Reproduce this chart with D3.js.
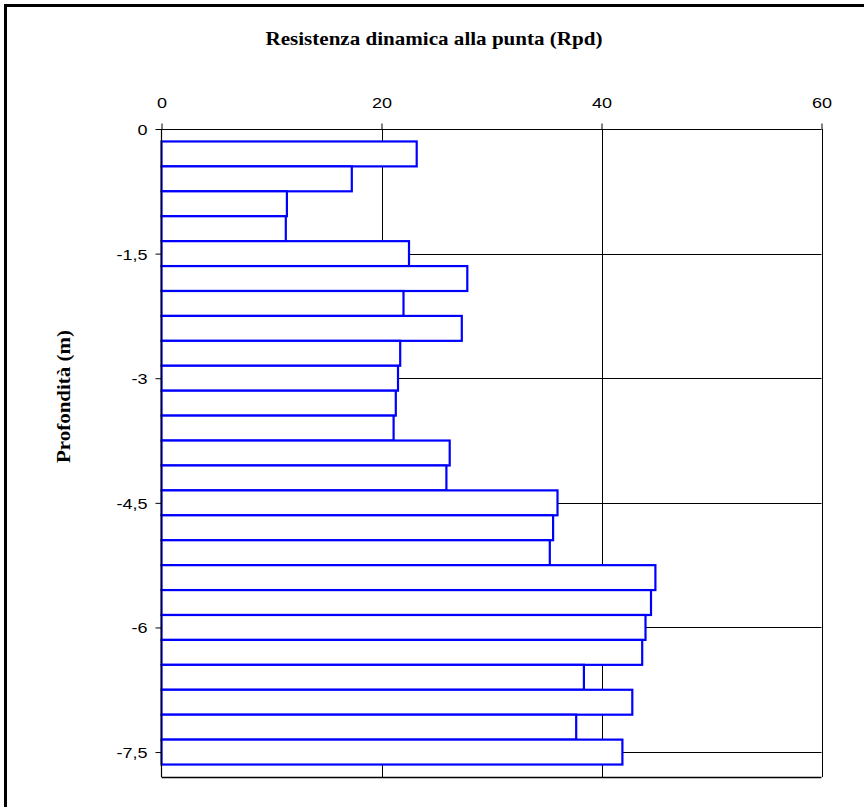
<!DOCTYPE html>
<html>
<head>
<meta charset="utf-8">
<script src="https://cdn.jsdelivr.net/npm/d3@7"></script>
<style>
  html, body { margin: 0; padding: 0; background: #fff; overflow: hidden; }
  svg { display: block; }
</style>
</head>
<body>
<svg id="chart" width="864" height="807"></svg>
<script>
// ---- data ----
const title = "Resistenza dinamica alla punta (Rpd)";
const yTitle = "Profondità (m)";
const depths = [0.3, 0.6, 0.9, 1.2, 1.5, 1.8, 2.1, 2.4, 2.7, 3.0, 3.3, 3.6, 3.9, 4.2, 4.5, 4.8, 5.1, 5.4, 5.7, 6.0, 6.3, 6.6, 6.9, 7.2, 7.5];
const rpd = [23.2, 17.3, 11.4, 11.3, 22.5, 27.8, 22.0, 27.3, 21.7, 21.5, 21.3, 21.1, 26.2, 25.9, 36.0, 35.6, 35.3, 44.9, 44.5, 44.0, 43.7, 38.4, 42.8, 37.7, 41.9];
const stepDepth = 0.3;
const xTicks = [0, 20, 40, 60];
const xTickLabels = ["0", "20", "40", "60"];
const yTicks = [0, -1.5, -3, -4.5, -6, -7.5];
const yTickLabels = ["0", "-1,5", "-3", "-4,5", "-6", "-7,5"];
const xDomain = [0, 60];
const yDomain = [0, -7.8];

// ---- layout ----
const svg = d3.select("#chart");
const pLeft = 161.5, pRight = 821.5, pTop = 129, pBottom = 777;

const x = d3.scaleLinear().domain(xDomain).range([pLeft, pRight]);
const y = d3.scaleLinear().domain(yDomain).range([pTop, pBottom]);

// outer frame (only left/top edges fall inside the picture)
svg.append("path")
  .attr("d", "M5.5,807V5.5H864")
  .attr("fill", "none").attr("stroke", "#000").attr("stroke-width", 3);

// gridlines
const g = svg.append("g");
g.selectAll("line.vgrid").data(xTicks.filter(d => d > 0)).join("line")
  .attr("x1", d => Math.round(x(d)) + 0.5).attr("x2", d => Math.round(x(d)) + 0.5)
  .attr("y1", pTop).attr("y2", pBottom)
  .attr("stroke", "#000").attr("stroke-width", 1);
g.selectAll("line.hgrid").data(yTicks.filter(d => d < 0)).join("line")
  .attr("x1", pLeft).attr("x2", pRight)
  .attr("y1", d => Math.round(y(d)) + 0.5).attr("y2", d => Math.round(y(d)) + 0.5)
  .attr("stroke", "#000").attr("stroke-width", 1);
// bottom border
g.append("line")
  .attr("x1", pLeft).attr("x2", pRight)
  .attr("y1", pBottom + 0.5).attr("y2", pBottom + 0.5)
  .attr("stroke", "#000").attr("stroke-width", 1.5);

// bars
svg.append("g").selectAll("rect").data(depths).join("rect")
  .attr("x", x(0))
  .attr("y", (d) => y(-(d - stepDepth / 2)))
  .attr("width", (d, i) => x(rpd[i]) - x(0))
  .attr("height", (d) => y(-(d + stepDepth / 2)) - y(-(d - stepDepth / 2)))
  .attr("fill", "#fff")
  .attr("stroke", "#0000ff")
  .attr("stroke-width", 2.2);

// axes
const xAxis = d3.axisTop(x).tickValues(xTicks)
  .tickFormat((d, i) => xTickLabels[i]).tickSize(6).tickSizeOuter(0).tickPadding(15);
const gx = svg.append("g").attr("transform", `translate(0,${pTop + 0.5})`).call(xAxis);

const yAxis = d3.axisLeft(y).tickValues(yTicks)
  .tickFormat((d, i) => yTickLabels[i]).tickSize(6).tickSizeOuter(0).tickPadding(8);
const gy = svg.append("g").attr("transform", `translate(${pLeft},0)`).call(yAxis);

[gx, gy].forEach(a => {
  a.select(".domain").attr("stroke", "#000").attr("stroke-width", 1.2);
  a.selectAll(".tick line").attr("stroke", "#000");
  a.selectAll(".tick text")
    .attr("fill", "#000")
    .style("font-family", "'Liberation Sans', Arial, sans-serif")
    .style("font-size", "15px");
});
gx.select(".domain").attr("d", `M${pLeft},0H${pRight}`);
gy.select(".domain").attr("d", `M0,${pTop}V${pBottom}`);

// stretch tick labels horizontally to match reference
gx.selectAll(".tick text").attr("dy", "0").attr("y", -22);
gy.selectAll(".tick text").attr("dy", "0.36em");
svg.selectAll(".tick text").each(function () {
  const w = this.getComputedTextLength();
  d3.select(this).attr("textLength", w * 1.2).attr("lengthAdjust", "spacingAndGlyphs");
});

// title
svg.append("text")
  .attr("x", 434).attr("y", 44.5)
  .attr("text-anchor", "middle")
  .style("font-family", "'Liberation Serif', 'Times New Roman', serif")
  .style("font-weight", "bold")
  .style("font-size", "19.5px")
  .attr("textLength", 337).attr("lengthAdjust", "spacingAndGlyphs")
  .text(title);

// y title
svg.append("text")
  .attr("transform", `translate(70,396.5) rotate(-90)`)
  .attr("text-anchor", "middle")
  .style("font-family", "'Liberation Serif', 'Times New Roman', serif")
  .style("font-weight", "bold")
  .style("font-size", "19.5px")
  .attr("textLength", 133).attr("lengthAdjust", "spacingAndGlyphs")
  .text(yTitle);
</script>
</body>
</html>
